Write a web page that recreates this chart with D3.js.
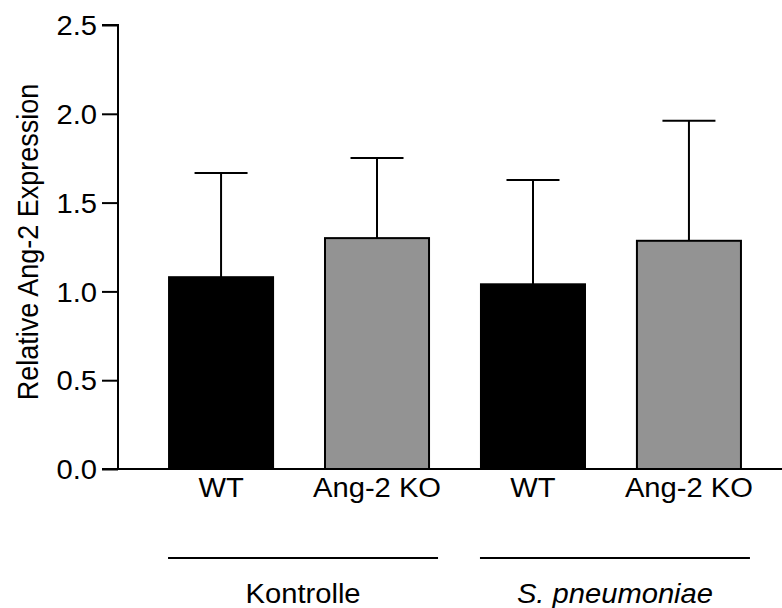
<!DOCTYPE html>
<html>
<head>
<meta charset="utf-8">
<script src="https://cdn.jsdelivr.net/npm/d3@7"></script>
<style>
  body { margin: 0; background: #fff; }
  svg text { font-family: "Liberation Sans", Arial, sans-serif; fill: #000; }
</style>
</head>
<body>
<div id="chart"></div>
<script>
// data
const categories = ["WT", "Ang-2 KO", "WT ", "Ang-2 KO "]
const labels = ["WT", "Ang-2 KO", "WT", "Ang-2 KO"]
const means = [1.08, 1.30, 1.04, 1.285]
const errTops = [1.667, 1.751, 1.627, 1.961]
const fills = ["#000000", "#939393", "#000000", "#939393"]
const groups = ["Kontrolle", "S. pneumoniae"]
const groupItalic = [false, true]
const yTicks = [0, 0.5, 1.0, 1.5, 2.0, 2.5]

const width = 782, height = 608
const fs = 27, stretch = 1.08   // text in the original looks a bit wide

const svg = d3.select('#chart')
    .append("svg")
    .attr("width", width)
    .attr("height", height)

const y = d3.scaleLinear()
    .domain([0, 2.5])
    .range([469, 25])

const x = d3.scaleBand()
    .domain(categories)
    .range([143, 767])
    .paddingInner(0.333)
    .paddingOuter(0.167)

// bars
svg.selectAll("rect.bar")
    .data(categories)
    .enter()
    .append("rect")
    .attr("class", "bar")
    .attr("x", d => x(d))
    .attr("width", x.bandwidth())
    .attr("y", (d, i) => y(means[i]))
    .attr("height", (d, i) => y(0) - y(means[i]))
    .attr("fill", (d, i) => fills[i])
    .attr("stroke", "#000")
    .attr("stroke-width", 2)

// error bars (upper only)
const capW = 53
const err = svg.selectAll("g.err")
    .data(categories)
    .enter()
    .append("g")
    .attr("class", "err")
    .attr("stroke", "#000")
    .attr("stroke-width", 2)
err.append("line")
    .attr("x1", d => x(d) + x.bandwidth() / 2)
    .attr("x2", d => x(d) + x.bandwidth() / 2)
    .attr("y1", (d, i) => y(means[i]))
    .attr("y2", (d, i) => y(errTops[i]))
err.append("line")
    .attr("x1", d => x(d) + x.bandwidth() / 2 - capW / 2)
    .attr("x2", d => x(d) + x.bandwidth() / 2 + capW / 2)
    .attr("y1", (d, i) => y(errTops[i]))
    .attr("y2", (d, i) => y(errTops[i]))

// y axis
const yAxis = svg.append("g")
    .attr("transform", "translate(118,0)")
    .call(d3.axisLeft(y).tickValues(yTicks).tickFormat(d3.format(".1f")).tickSize(16).tickPadding(5))
yAxis.selectAll("path, line").attr("stroke", "#000").attr("stroke-width", 2)
yAxis.select(".domain").attr("d", "M-16,25H0V469")
yAxis.selectAll("text")
    .style("font-size", fs + "px")
    .attr("x", 0)
    .attr("dy", "0.36em")
    .attr("transform", `translate(-21,0) scale(${stretch},1)`)

// x baseline
svg.append("line")
    .attr("x1", 102).attr("x2", width)
    .attr("y1", y(0)).attr("y2", y(0))
    .attr("stroke", "#000").attr("stroke-width", 2)

// category labels
svg.selectAll("text.cat")
    .data(categories)
    .enter()
    .append("text")
    .attr("class", "cat")
    .attr("transform", d => `translate(${x(d) + x.bandwidth() / 2},497) scale(${stretch},1)`)
    .attr("text-anchor", "middle")
    .style("font-size", fs + "px")
    .text((d, i) => labels[i])

// group lines and labels
groups.forEach((g, gi) => {
    const a = categories[gi * 2], b = categories[gi * 2 + 1]
    const x0 = x(a), x1 = x(b) + x.bandwidth()
    svg.append("line")
        .attr("x1", x0 - 1).attr("x2", x1 + 9)
        .attr("y1", 558).attr("y2", 558)
        .attr("stroke", "#000").attr("stroke-width", 2)
    svg.append("text")
        .attr("transform", `translate(${(x0 + x1 + 8) / 2},603) scale(${stretch},1)`)
        .attr("text-anchor", "middle")
        .style("font-size", fs + "px")
        .style("font-style", groupItalic[gi] ? "italic" : "normal")
        .text(g)
})

// y label
svg.append("text")
    .attr("transform", `translate(38,${(y(0) + y(2.5)) / 2 - 5}) rotate(-90) scale(1,${stretch})`)
    .attr("text-anchor", "middle")
    .style("font-size", fs + "px")
    .text("Relative Ang-2 Expression")
</script>
</body>
</html>
